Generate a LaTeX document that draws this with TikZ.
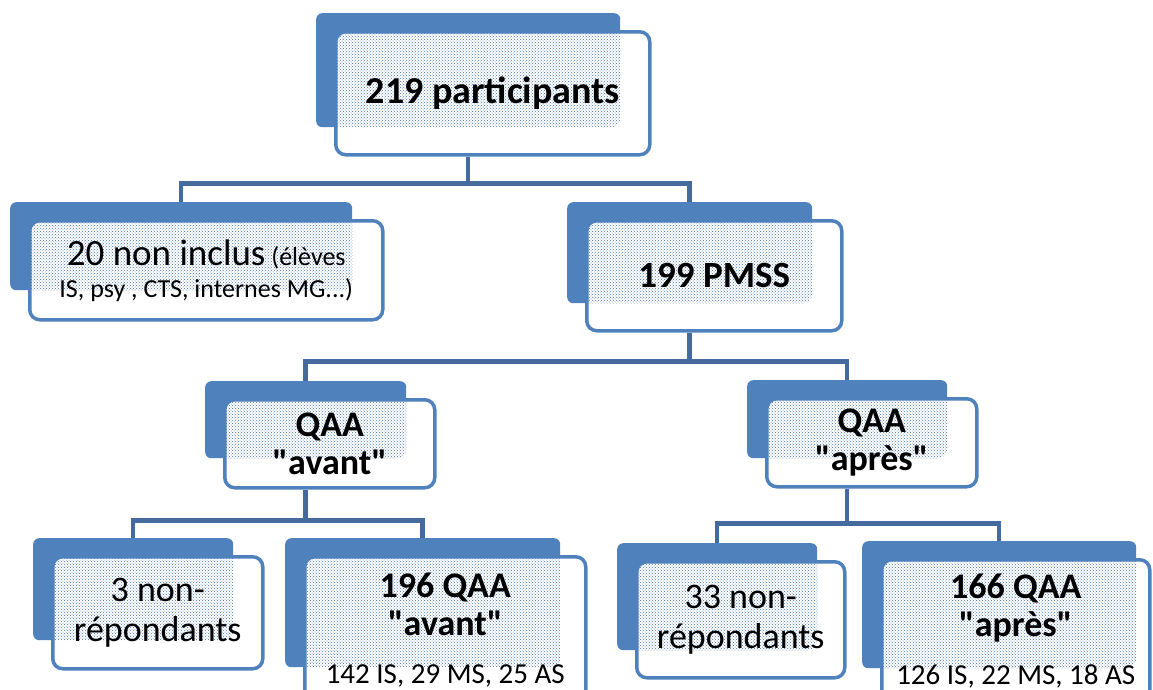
\documentclass[tikz,border=0pt]{standalone}
\usepackage{fontspec}
\newfontfamily\carlito{Carlito}
\usepackage{tikz}
\usetikzlibrary{positioning, patterns}
\definecolor{boxblue}{RGB}{79,129,189}
\definecolor{lineblue}{RGB}{69,107,158}
\tikzset{
    back/.style={fill=boxblue, rounded corners=6pt, inner sep=0pt, anchor=north west}, % bloc bleu derriere
    front/.style={draw=boxblue, line width=3.5pt, fill=white, rounded corners=10pt, inner sep=0pt, align=center,
        below right=17pt and 18pt of #1-b.north west,
        path picture={\fill[pattern=crosshatch dots, pattern color=boxblue!90!black] (#1-b.north west) rectangle (#1-b.south east);}}, % cadre blanc devant
    link/.style={draw=lineblue, line width=4.5pt}, % traits de liaison
    big/.style={font=\carlito\bfseries\fontsize{36}{38}\selectfont}, % titres en gras
    txt/.style={font=\carlito\fontsize{36}{40}\selectfont} % texte normal
}

\begin{document}
\begin{tikzpicture}[x=1pt, y=-1pt]
    \useasboundingbox (0,0) rectangle (1153,689);
    \clip (0,0) rectangle (1153,689);

    % niveau 1
    \node[back, minimum width=304pt, minimum height=114pt] (top-b) at (316,13) {};
    \node[front=top, minimum width=314pt, minimum height=123pt, font=\carlito\bfseries\fontsize{38}{40}\selectfont] (top) {219 participants};

    % niveau 2
    \node[back, minimum width=342pt, minimum height=88pt] (incl-b) at (10,202) {};
    \node[front=incl, minimum width=353pt, minimum height=99pt, font=\carlito\fontsize{26}{32}\selectfont] (incl)
        {{\fontsize{37}{32}\selectfont 20 non inclus} (élèves\\IS, psy , CTS, internes MG...)};
    \node[back, minimum width=245pt, minimum height=101pt] (pmss-b) at (567,202) {};
    \node[front=pmss, minimum width=255pt, minimum height=110pt, font=\carlito\bfseries\fontsize{37}{38}\selectfont] (pmss) {199 PMSS};

    % niveau 3
    \node[back, minimum width=201pt, minimum height=77pt] (avant-b) at (205,381) {};
    \node[front=avant, minimum width=210pt, minimum height=88pt, big] (avant) {QAA\\"avant"};
    \node[back, minimum width=200pt, minimum height=78pt] (apres-b) at (747,380) {};
    \node[front=apres, minimum width=210pt, minimum height=88pt, big] (apres) {QAA\\"après"};

    % niveau 4
    \node[back, minimum width=200pt, minimum height=102pt] (nr1-b) at (33,538) {};
    \node[front=nr1, minimum width=210pt, minimum height=112pt, txt] (nr1) {3 non-\\répondants};
    \node[back, minimum width=275pt, minimum height=129pt] (qa1-b) at (285,538) {};
    \node[front=qa1, minimum width=281pt, minimum height=146pt, big] (qa1)
        {196 QAA\\"avant"\\[10pt]{\mdseries\fontsize{29}{38}\selectfont 142 IS, 29 MS, 25 AS}};
    \node[back, minimum width=200pt, minimum height=107pt] (nr2-b) at (617,543) {};
    \node[front=nr2, minimum width=208pt, minimum height=116pt, txt] (nr2) {33 non-\\répondants};
    \node[back, minimum width=274pt, minimum height=127pt] (qa2-b) at (862,541) {};
    \node[front=qa2, minimum width=268pt, minimum height=142pt, big] (qa2)
        {166 QAA\\"après"\\[10pt]{\mdseries\fontsize{29}{38}\selectfont 126 IS, 22 MS, 18 AS}};

    % liaisons
    \draw[link] (top-b.center |- top.south) -- ++(0,27) -| (incl-b.north);
    \draw[link] (top-b.center |- top.south) -- ++(0,27) -| (pmss-b.north);
    \draw[link] (pmss-b.center |- pmss.south) -- ++(0,29) -| (avant-b.north);
    \draw[link] (pmss-b.center |- pmss.south) -- ++(0,29) -| (apres-b.north);
    \draw[link] (avant-b.center |- avant.south) -- ++(0,31) -| (nr1-b.north);
    \draw[link] (avant-b.center |- avant.south) -- ++(0,31) -| (qa1-b.north);
    \draw[link] (apres-b.center |- apres.south) -- ++(0,35) -| (nr2-b.north);
    \draw[link] (apres-b.center |- apres.south) -- ++(0,35) -| (qa2-b.north);
\end{tikzpicture}
\end{document}
